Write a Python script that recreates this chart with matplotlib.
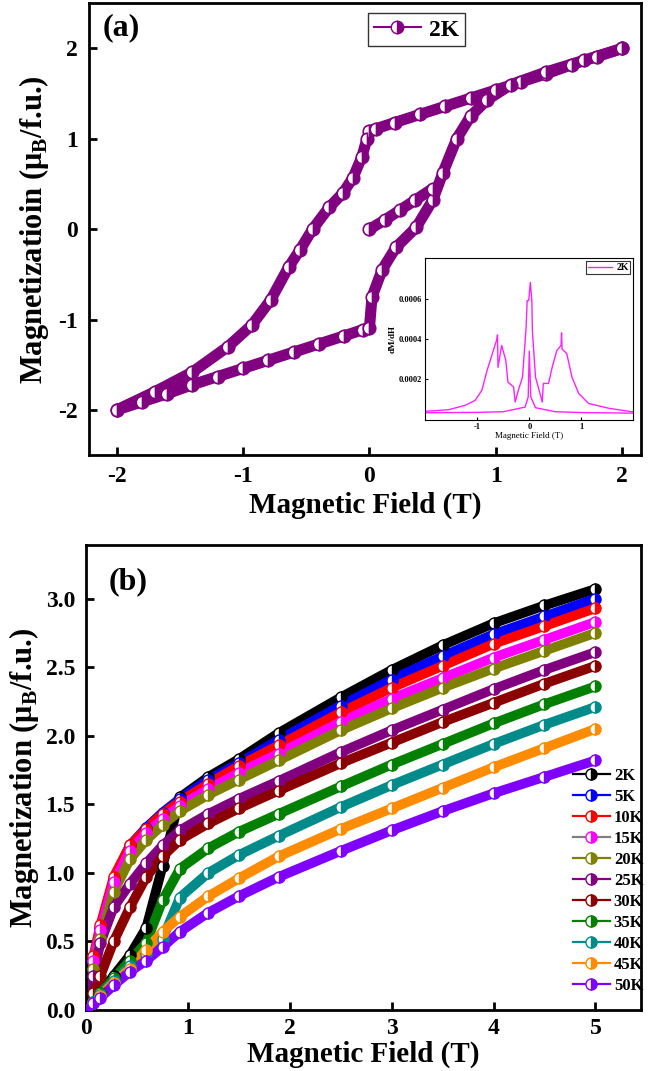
import matplotlib
matplotlib.use("Agg")
import matplotlib.pyplot as plt
import numpy as np

plt.rcParams['font.family'] = ['Liberation Serif', 'DejaVu Serif']
plt.rcParams['font.weight'] = 'bold'
plt.rcParams['axes.unicode_minus'] = False
plt.rcParams['mathtext.fontset'] = 'custom'
plt.rcParams['mathtext.rm'] = 'Liberation Serif:bold'
plt.rcParams['mathtext.bf'] = 'Liberation Serif:bold'

# ---------------- Panel (a): 2 K hysteresis loop ----------------
H_desc = [2.0, 1.8, 1.6, 1.4, 1.2, 1.0, 0.8, 0.6, 0.4, 0.2, 0.05, 0.0, -0.02, -0.06,
          -0.13, -0.21, -0.32, -0.45, -0.55, -0.64, -0.78, -0.93, -1.12, -1.4, -1.7, -2.0]
M_desc = [2.0, 1.91, 1.82, 1.72, 1.63, 1.54, 1.45, 1.36, 1.27, 1.18, 1.11, 1.09, 1.0, 0.8,
          0.57, 0.4, 0.24, 0.0, -0.23, -0.42, -0.78, -1.06, -1.3, -1.58, -1.8, -2.0]
H_asc = [-2.0, -1.8, -1.6, -1.4, -1.2, -1.0, -0.8, -0.6, -0.4, -0.2, -0.05, 0.0, 0.02, 0.1,
         0.21, 0.37, 0.5, 0.58, 0.69, 0.8, 0.93, 1.12, 1.4, 1.7, 2.0]
M_asc = [-2.0, -1.91, -1.82, -1.72, -1.63, -1.54, -1.45, -1.36, -1.27, -1.18, -1.11, -1.09,
         -0.75, -0.45, -0.2, 0.02, 0.32, 0.62, 1.0, 1.25, 1.43, 1.6, 1.74, 1.87, 2.0]
H_virgin = [0.0, 0.12, 0.24, 0.36, 0.5]
M_virgin = [0.0, 0.1, 0.21, 0.32, 0.45]

# inset dM/dH
Hi_up = [-2.0, -1.55, -1.23, -1.04, -0.91, -0.81, -0.69, -0.62, -0.61, -0.6, -0.53, -0.45,
         -0.41, -0.30, -0.27, -0.21, -0.13, -0.06, -0.04, -0.01, 0.02, 0.05, 0.06, 0.12,
         0.19, 0.25, 0.27, 0.37, 0.44, 0.53, 0.61, 0.62, 0.63, 0.72, 0.82, 0.95, 1.14, 1.53, 2.0]
dMi_up = [0.000042, 0.00005, 0.000072, 0.000096, 0.000146, 0.000244, 0.000343, 0.0004,
          0.00042, 0.00026, 0.000368, 0.000294, 0.000187, 0.000162, 0.000088, 0.000146,
          0.000211, 0.000458, 0.00059, 0.00059, 0.00068, 0.00059, 0.000442, 0.000211,
          0.000146, 0.000088, 0.00018, 0.00018, 0.00026, 0.000343, 0.000368, 0.00043,
          0.00035, 0.000328, 0.000211, 0.00013, 0.000081, 0.000057, 0.000039]
Hi_low = [-2.0, -1.0, -0.5, -0.08, -0.02, 0.0, 0.03, 0.12, 0.5, 1.0, 2.0]
dMi_low = [0.000035, 0.000037, 0.00004, 0.000063, 0.000113, 0.00034, 0.000113, 0.00006,
           0.00004, 0.000036, 0.000033]

# ---------------- Panel (b): M(H) at various T ----------------
temps = ['2K', '5K', '10K', '15K', '20K', '25K', '30K', '35K', '40K', '45K', '50K']
line_colors = ['black', 'blue', 'red', 'gray', 'olive', 'purple', 'darkred', 'green',
               'darkcyan', 'darkorange', '#8000ff']
marker_colors = ['black', 'blue', 'red', 'magenta', 'olive', 'purple', 'darkred', 'green',
                 'darkcyan', 'darkorange', '#8000ff']
Hb = [0.0, 0.07, 0.14, 0.27, 0.43, 0.59, 0.75, 0.92, 1.2, 1.5, 1.89, 2.5, 3.0, 3.5, 4.0, 4.5, 5.0]
Mb = {
    '2K':  [0.0, 0.05, 0.12, 0.25, 0.4, 0.6, 1.05, 1.55, 1.7, 1.83, 2.02, 2.28, 2.48, 2.66, 2.82, 2.95, 3.07],
    '5K':  [0.0, 0.36, 0.6, 0.95, 1.2, 1.33, 1.44, 1.54, 1.68, 1.8, 1.97, 2.22, 2.41, 2.58, 2.74, 2.87, 3.0],
    '10K': [0.0, 0.39, 0.62, 0.97, 1.2, 1.32, 1.43, 1.52, 1.65, 1.78, 1.93, 2.17, 2.35, 2.51, 2.67, 2.8, 2.93],
    '15K': [0.0, 0.36, 0.58, 0.93, 1.16, 1.29, 1.39, 1.49, 1.61, 1.73, 1.87, 2.1, 2.27, 2.42, 2.57, 2.7, 2.83],
    '20K': [0.0, 0.3, 0.52, 0.86, 1.1, 1.24, 1.35, 1.45, 1.57, 1.68, 1.82, 2.04, 2.2, 2.35, 2.49, 2.62, 2.75],
    '25K': [0.0, 0.25, 0.49, 0.75, 0.92, 1.07, 1.2, 1.31, 1.43, 1.54, 1.67, 1.88, 2.04, 2.19, 2.34, 2.48, 2.61],
    '30K': [0.0, 0.12, 0.25, 0.5, 0.75, 0.97, 1.12, 1.24, 1.36, 1.47, 1.6, 1.8, 1.95, 2.1, 2.24, 2.38, 2.51],
    '35K': [0.0, 0.06, 0.12, 0.23, 0.36, 0.49, 0.8, 1.03, 1.18, 1.3, 1.43, 1.63, 1.79, 1.94, 2.09, 2.23, 2.36],
    '40K': [0.0, 0.06, 0.11, 0.21, 0.32, 0.41, 0.52, 0.82, 1.0, 1.13, 1.27, 1.48, 1.64, 1.79, 1.94, 2.08, 2.21],
    '45K': [0.0, 0.05, 0.1, 0.2, 0.3, 0.44, 0.57, 0.68, 0.83, 0.96, 1.12, 1.32, 1.47, 1.62, 1.77, 1.91, 2.05],
    '50K': [0.0, 0.05, 0.09, 0.18, 0.28, 0.36, 0.46, 0.57, 0.71, 0.83, 0.97, 1.16, 1.31, 1.45, 1.58, 1.7, 1.82],
}

fig = plt.figure(figsize=(6.53, 10.71), dpi=100)

def style_axes(ax, fs=17):
    for s in ax.spines.values():
        s.set_linewidth(2.0)
    ax.tick_params(direction='in', length=6, width=2, labelsize=fs, pad=8)
    for lab in ax.get_xticklabels() + ax.get_yticklabels():
        lab.set_fontweight('bold')

purple = '#800080'
ax1 = fig.add_axes([0.136, 0.575, 0.846, 0.422])
mk = dict(marker='o', markersize=9, fillstyle='right', markerfacecoloralt='white',
          markeredgewidth=1.2)
for hh, mm in [(H_desc, M_desc), (H_asc, M_asc), (H_virgin, M_virgin)]:
    ax1.plot(hh, mm, color=purple, lw=8, solid_capstyle='round', solid_joinstyle='round', zorder=2)
    ax1.plot(hh, mm, ls='none', color=purple, markeredgecolor=purple, zorder=3, **mk)
ax1.plot([], [], color=purple, lw=1.5, marker='o', markersize=9, fillstyle='right',
         markerfacecoloralt='white', markeredgecolor=purple, label='2K')
ax1.set_xlim(-2.22, 2.15)
ax1.set_ylim(-2.5, 2.5)
ax1.set_xticks([-2, -1, 0, 1, 2])
ax1.set_yticks([-2, -1, 0, 1, 2])
ax1.set_xlabel('Magnetic Field (T)', fontsize=21, fontweight='bold', labelpad=3)
ax1.set_ylabel('Magnetizatioin (μ$_\\mathregular{B}$/f.u.)', fontsize=22, fontweight='bold', labelpad=5)
style_axes(ax1)
ax1.text(0.025, 0.93, '(a)', transform=ax1.transAxes, fontsize=23, fontweight='bold')
leg1 = ax1.legend(loc='upper left', bbox_to_anchor=(0.505, 0.978), fontsize=17, frameon=True,
                  fancybox=False, edgecolor='black', handlelength=2.0, borderpad=0.25,
                  handletextpad=0.35, borderaxespad=0)
leg1.get_frame().set_linewidth(1.0)
for t in leg1.get_texts():
    t.set_fontweight('bold')

# inset
axi = fig.add_axes([0.651, 0.608, 0.319, 0.151])
pink = '#ff22ff'
axi.plot(Hi_up, dMi_up, color=pink, lw=1.0, label='2K')
axi.plot(Hi_low, dMi_low, color=pink, lw=1.0)
axi.set_xlim(-2, 2)
axi.set_ylim(0, 0.0008)
axi.set_xticks([-1, 0, 1])
axi.set_yticks([0.0002, 0.0004, 0.0006])
axi.set_yticklabels(['0.0002', '0.0004', '0.0006'])
for s in axi.spines.values():
    s.set_linewidth(0.8)
axi.tick_params(direction='in', length=2, width=0.8, labelsize=6, pad=2)
axi.set_xlabel('Magnetic Field (T)', fontsize=6.5, labelpad=1, fontweight='normal')
axi.set_ylabel('dM/dH', fontsize=6.5, labelpad=2, fontweight='bold')
legi = axi.legend(loc='upper right', fontsize=7, frameon=True, fancybox=False,
                  edgecolor='black', handlelength=2.5, borderpad=0.2, borderaxespad=0.3,
                  handletextpad=0.4)
legi.get_frame().set_linewidth(0.8)

# ---------------- Panel (b) ----------------
ax2 = fig.add_axes([0.132, 0.057, 0.85, 0.434])
for i, t in enumerate(temps):
    lc = line_colors[i]
    mc = marker_colors[i]
    ax2.plot(Hb, Mb[t], color=mc, lw=7, solid_capstyle='round', solid_joinstyle='round',
             zorder=2 + i * 0.01)
    ax2.plot(Hb, Mb[t], ls='none', marker='o', markersize=8, fillstyle='right',
             markerfacecoloralt='white', color=mc, markeredgecolor=mc,
             markeredgewidth=1.0, zorder=3 + i * 0.01)
    ax2.plot([], [], color=lc, lw=1.6, marker='o', markersize=8, fillstyle='right',
             markerfacecoloralt='white', markerfacecolor=mc, markeredgecolor=mc, label=t)
ax2.set_xlim(0, 5.45)
ax2.set_ylim(0, 3.39)
ax2.set_xticks([0, 1, 2, 3, 4, 5])
ax2.set_yticks([0.0, 0.5, 1.0, 1.5, 2.0, 2.5, 3.0])
ax2.set_yticklabels(['0.0', '0.5', '1.0', '1.5', '2.0', '2.5', '3.0'])
ax2.set_xlabel('Magnetic Field (T)', fontsize=21, fontweight='bold', labelpad=1)
ax2.set_ylabel('Magnetization (μ$_\\mathregular{B}$/f.u.)', fontsize=22, fontweight='bold', labelpad=3)
style_axes(ax2)
ax2.tick_params(axis='x', pad=6)
ax2.text(0.04, 0.905, '(b)', transform=ax2.transAxes, fontsize=23, fontweight='bold')
leg2 = ax2.legend(loc='upper left', bbox_to_anchor=(0.877, 0.52), fontsize=12, frameon=False,
                  handlelength=2.2, handletextpad=0.25, labelspacing=0.3, borderaxespad=0,
                  borderpad=0)
for t in leg2.get_texts():
    t.set_fontweight('bold')

fig.savefig('out.png', dpi=100)
